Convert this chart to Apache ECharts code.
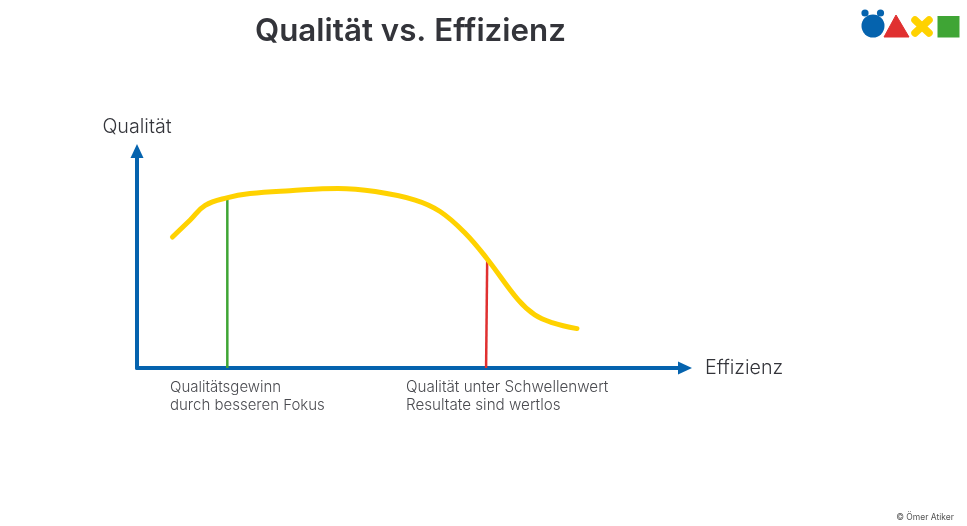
<!DOCTYPE html>
<html><head><meta charset="utf-8">
<style>html,body{margin:0;padding:0;background:#fff}#c{width:967px;height:526px}</style>
<script src="https://cdn.jsdelivr.net/npm/echarts@6/dist/echarts.min.js"></script>
</head><body><div id="c"></div>
<script>
const curveX = [6.4,9.6,12.3,16.2,20.4,27.6,36.3,43,50.2,54.7,59.2,63.2,68.8,71.8,74.9,79.4];
const curveY = [58.5,66.1,72.6,76,77.9,79.2,80.2,78.8,75,69.9,60.3,48.7,30.4,23.7,20.3,17.6];
const greenX = [16.3,16.3];
const greenY = [0,76];
const redX = [63,63.2];
const redY = [0,48];
const titleText = 'Qualität vs. Effizienz';
const yName = 'Qualität';
const xName = 'Effizienz';
const noteGreen = 'Qualitätsgewinn\ndurch besseren Fokus';
const noteRed = 'Qualität unter Schwellenwert\nResultate sind wertlos';
const copyright = '© Ömer Atiker';

const zip = (a,b)=>a.map((v,i)=>[v,b[i]]);
const font = 'Inter, "Open Sans", sans-serif';
const axisBlue = '#0563ae';
const dark = '#33343a';
const axisBase = {
  min:0,max:100,type:'value',
  axisTick:{show:false},axisLabel:{show:false},splitLine:{show:false},
  nameTextStyle:{color:dark,fontFamily:font,fontSize:19.7,fontWeight:300}
};
const chart = echarts.init(document.getElementById('c'),null,{renderer:'canvas'});
chart.setOption({
  backgroundColor:'#fff',
  animation:false,
  title:[
    {text:titleText,left:250,top:11,textStyle:{fontFamily:font,fontWeight:600,fontSize:31.3,color:dark}},
    {text:copyright,right:8,top:508,textStyle:{fontFamily:font,fontWeight:'normal',fontSize:8.5,color:'#555'}}
  ],
  grid:{left:137,top:151,width:548,height:217,containLabel:false},
  xAxis:Object.assign({},axisBase,{
    max:98.9,
    name:xName,nameLocation:'end',nameGap:20,
    axisLine:{onZero:false,lineStyle:{color:axisBlue,width:4},symbol:['none','triangle'],symbolSize:[13,14],symbolOffset:[0,0]}
  }),
  yAxis:Object.assign({},axisBase,{
    max:96.9,
    name:yName,nameLocation:'end',nameGap:14,
    axisLine:{onZero:false,lineStyle:{color:axisBlue,width:4},symbol:['none','triangle'],symbolSize:[13,14],symbolOffset:[0,0]}
  }),
  series:[
    {type:'line',data:zip(greenX,greenY),showSymbol:false,lineStyle:{color:'#3fa535',width:2.5}},
    {type:'line',data:zip(redX,redY),showSymbol:false,lineStyle:{color:'#e03030',width:2.5}},
    {type:'line',data:zip(curveX,curveY),showSymbol:false,smooth:0.4,lineStyle:{color:'#ffd200',width:5,cap:'round',join:'round'}}
  ],
  graphic:[
    {type:'text',left:170,top:378,style:{text:noteGreen,fill:'#4a4b50',font:'300 15px '+font,lineHeight:18}},
    {type:'text',left:406,top:378,style:{text:noteRed,fill:'#4a4b50',font:'300 15.2px '+font,lineHeight:18}},
    {type:'circle',shape:{cx:873,cy:26,r:11.5},style:{fill:'#0563ae'}},
    {type:'circle',shape:{cx:865,cy:13,r:3.6},style:{fill:'#0563ae'}},
    {type:'circle',shape:{cx:880.5,cy:13,r:3.6},style:{fill:'#0563ae'}},
    {type:'polygon',shape:{points:[[896,15],[884,37],[909,37]]},style:{fill:'#e03030',stroke:'#e03030',lineWidth:1,lineJoin:'round'}},
    {type:'line',shape:{x1:915,y1:20,x2:929,y2:33},style:{stroke:'#ffd200',lineWidth:7.5,lineCap:'round'}},
    {type:'line',shape:{x1:929,y1:20,x2:915,y2:33},style:{stroke:'#ffd200',lineWidth:7.5,lineCap:'round'}},
    {type:'rect',shape:{x:937.5,y:16,width:22,height:21.5},style:{fill:'#3fa535'}}
  ]
});
</script></body></html>
